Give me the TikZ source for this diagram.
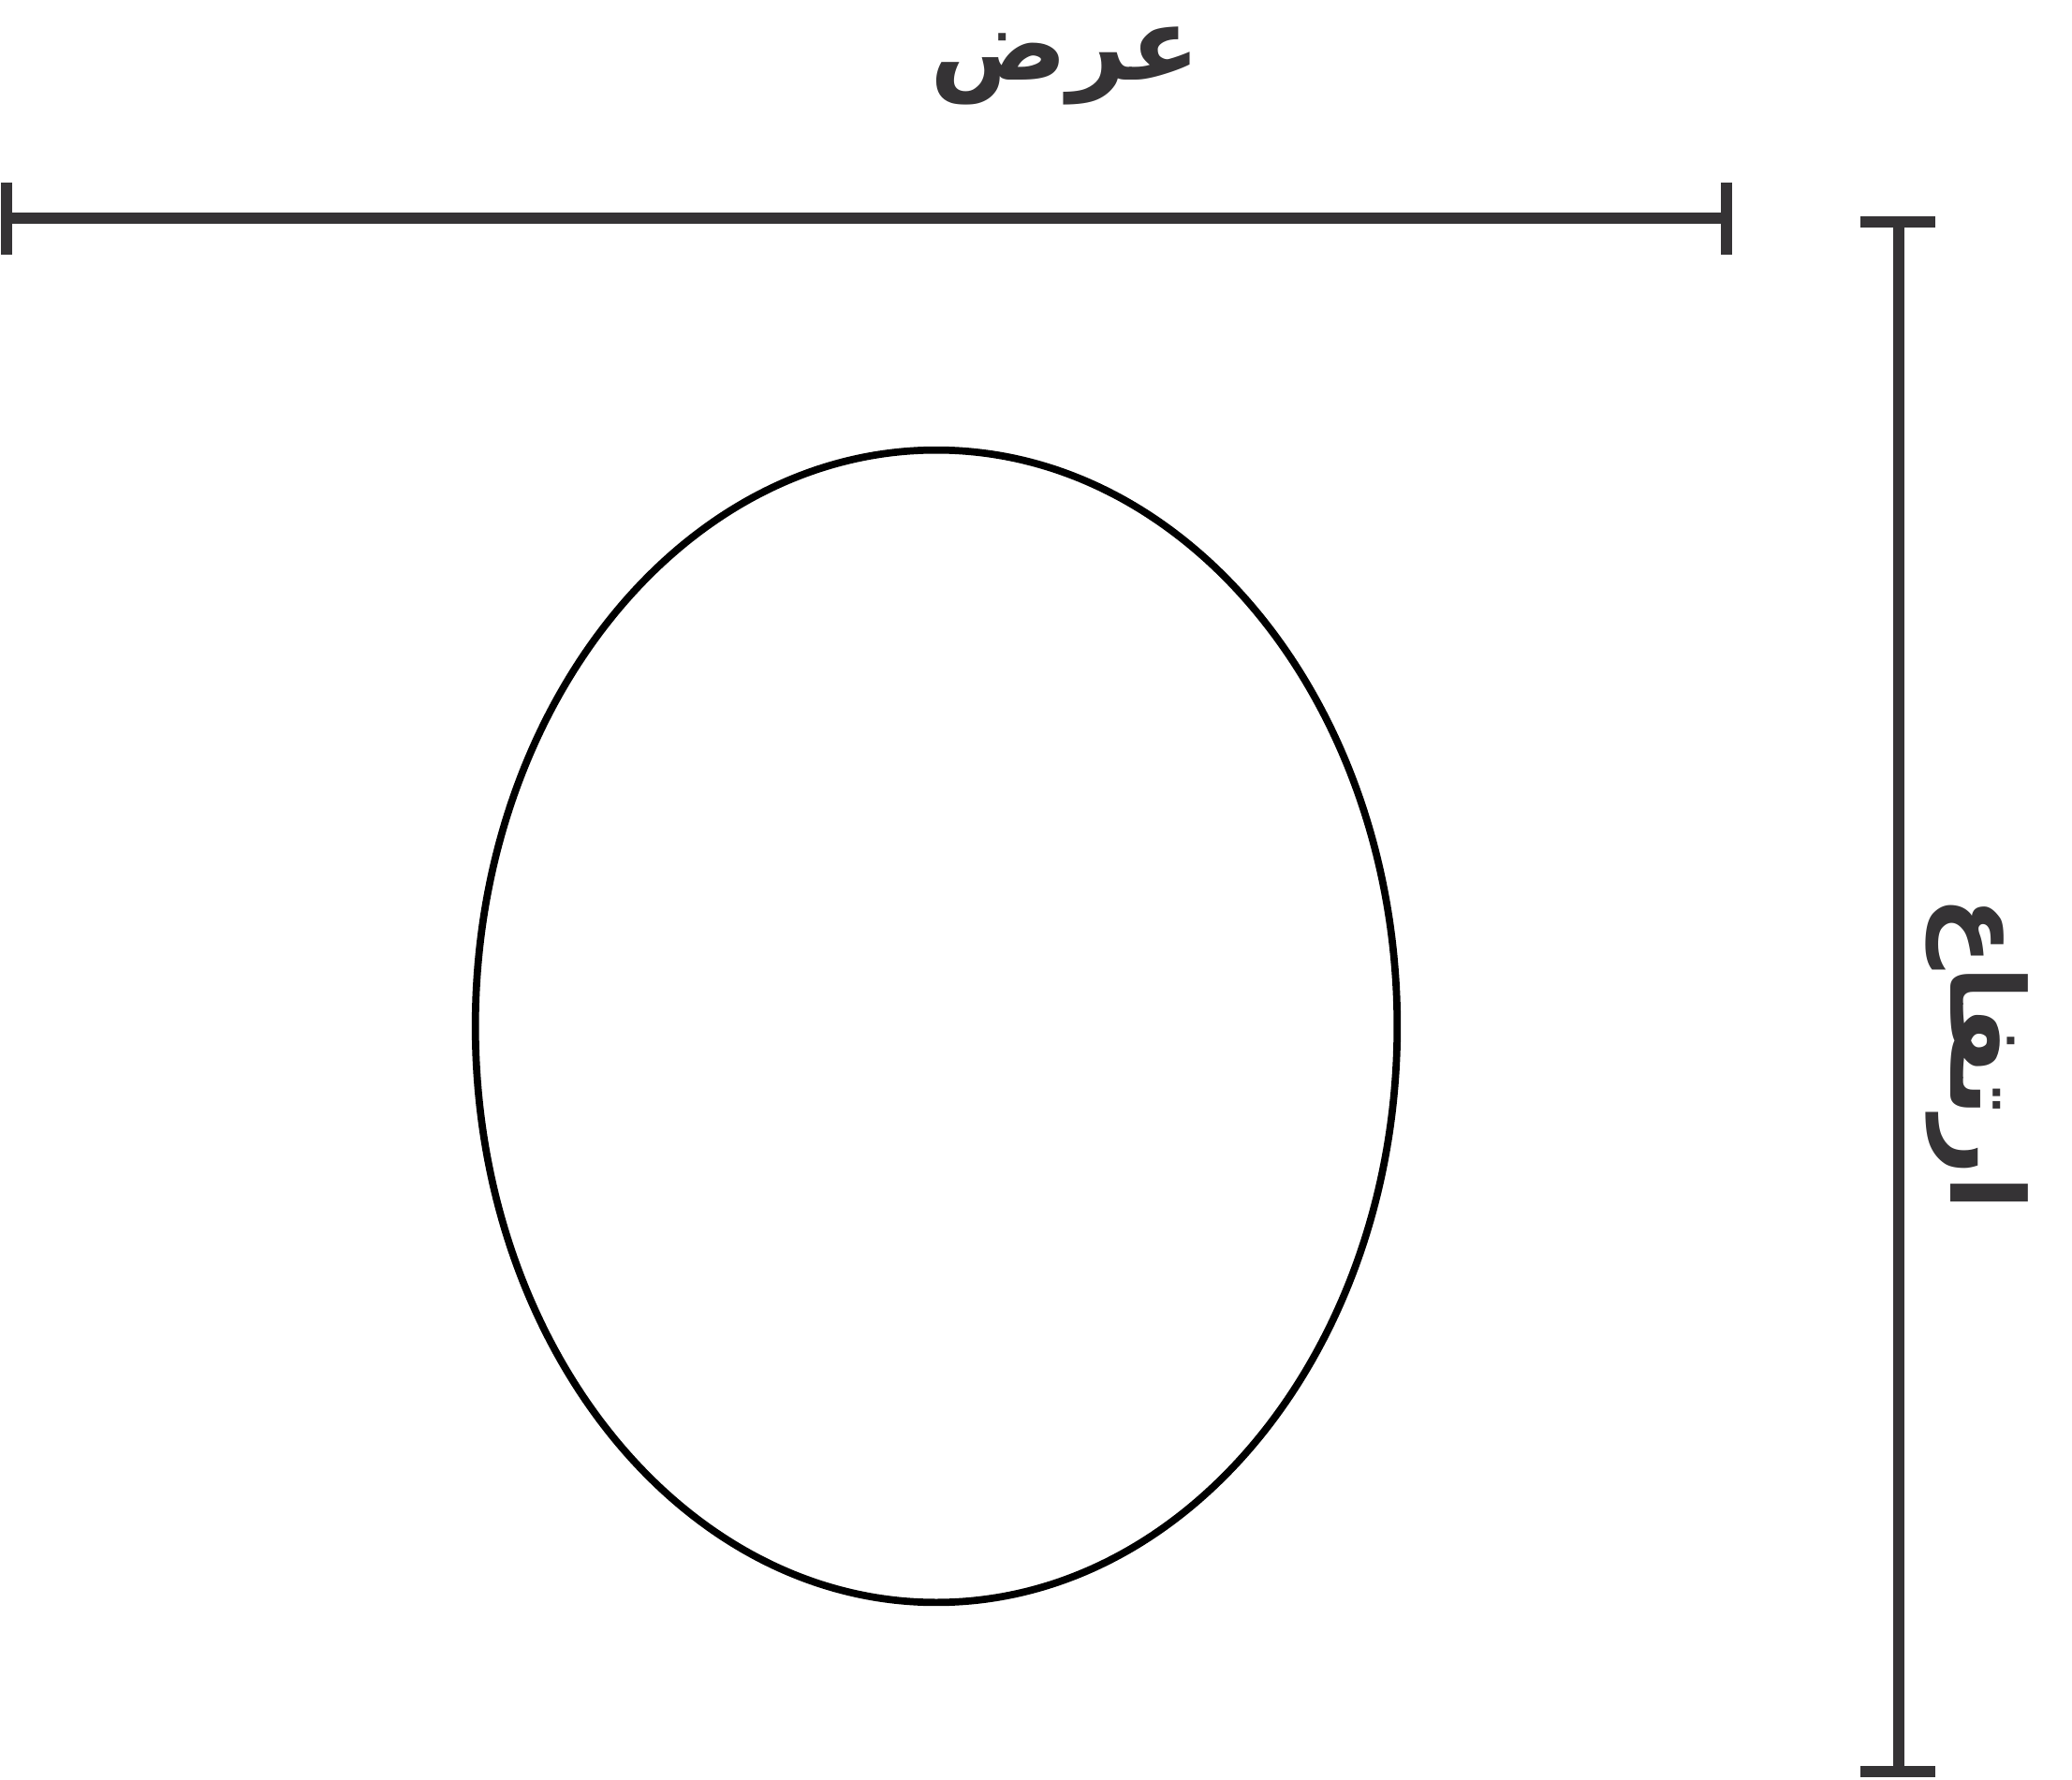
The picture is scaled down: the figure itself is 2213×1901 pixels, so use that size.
\documentclass[tikz,border=0pt]{standalone}
\usepackage{fontspec}
\usetikzlibrary{shapes.geometric}
\newfontfamily\arabicfont[Script=Arabic]{DejaVu Sans}
\TeXXeTstate=1
\definecolor{bargray}{HTML}{353335}
\begin{document}
\begin{tikzpicture}
        [x=0.01cm, y=-0.01cm,
        bar/.style={draw=bargray, line width=3.4pt},
        tick/.style={draw=bargray, line width=3.4pt},
        label/.style={text=bargray, font=\arabicfont\bfseries\fontsize{31}{38}\selectfont, inner sep=0pt}]
        \useasboundingbox (0,0) rectangle (2213,1901);

        % width
        \coordinate (W1) at (7,233);
        \coordinate (W2) at (1844,233);
        \coordinate (W1a) at (7,195);
        \coordinate (W1b) at (7,272);
        \coordinate (W2a) at (1844,195);
        \coordinate (W2b) at (1844,272);
        \node[label] (width) at (1138,70) {\beginR عرض\endR};

        % height
        \coordinate (H1) at (2028,237);
        \coordinate (H2) at (2028,1892);
        \coordinate (H1a) at (1987,237);
        \coordinate (H1b) at (2067,237);
        \coordinate (H2a) at (1987,1892);
        \coordinate (H2b) at (2067,1892);
        \node[label, rotate=-90] (height) at (2112,1125) {\beginR ارتفاع\endR};

        \draw[bar] (W1) -- (W2);
        \draw[tick] (W1a) -- (W1b);
        \draw[tick] (W2a) -- (W2b);
        \draw[bar] (H1) -- (H2);
        \draw[tick] (H1a) -- (H1b);
        \draw[tick] (H2a) -- (H2b);

        % egg
        \node[draw=black, line width=2.2pt, ellipse, minimum width=9.84cm, minimum height=12.3cm, inner sep=0pt] (egg) at (1000,1096) {};
    \end{tikzpicture}
\end{document}
